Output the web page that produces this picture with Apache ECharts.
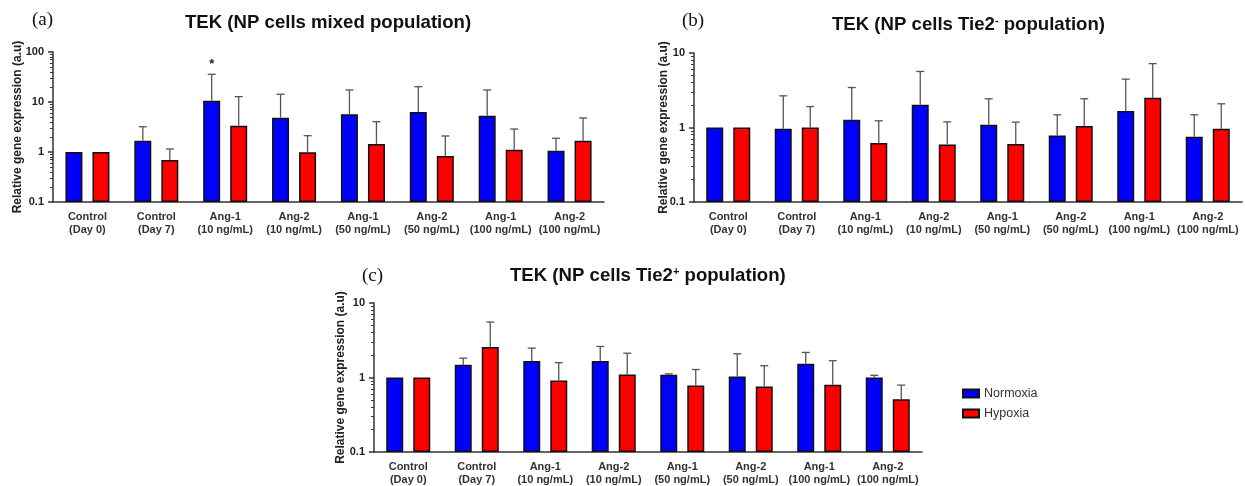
<!DOCTYPE html>
<html>
<head>
<meta charset="utf-8">
<script src="https://cdn.jsdelivr.net/npm/echarts@6/dist/echarts.min.js"></script>
<style>
html,body{margin:0;padding:0;background:#fff;}
#chart{width:1245px;height:486px;}
</style>
</head>
<body>
<div id="chart"></div>
<script>
// ---- data ----
const categories = ['Control\n(Day 0)', 'Control\n(Day 7)', 'Ang-1\n(10 ng/mL)', 'Ang-2\n(10 ng/mL)',
  'Ang-1\n(50 ng/mL)', 'Ang-2\n(50 ng/mL)', 'Ang-1\n(100 ng/mL)', 'Ang-2\n(100 ng/mL)'];
const seriesNames = ['Normoxia', 'Hypoxia'];

// Panel (a) mixed population
const aNorm    = [1.0, 1.68, 10.6, 4.85, 5.67, 6.3, 5.32, 1.06];
const aNormErr = [null, 3.2, 35.8, 14.3, 17.4, 20.2, 17.4, 1.88];
const aHyp     = [1.0, 0.69, 3.36, 0.99, 1.45, 0.83, 1.11, 1.68];
const aHypErr  = [null, 1.15, 12.8, 2.12, 4.04, 2.09, 2.88, 4.79];
const aNormSig = ['', '', '*', '', '', '', '', ''];

// Panel (b) Tie2- population
const bNorm    = [1.0, 0.96, 1.27, 2.02, 1.09, 0.78, 1.66, 0.75];
const bNormErr = [null, 2.66, 3.44, 5.65, 2.43, 1.48, 4.46, 1.48];
const bHyp     = [1.0, 1.0, 0.62, 0.59, 0.60, 1.05, 2.5, 0.96];
const bHypErr  = [null, 1.91, 1.23, 1.19, 1.18, 2.43, 7.2, 2.08];

// Panel (c) Tie2+ population
const cNorm    = [1.0, 1.48, 1.66, 1.66, 1.09, 1.03, 1.53, 1.0];
const cNormErr = [null, 1.82, 2.48, 2.61, 1.12, 2.08, 2.17, 1.07];
const cHyp     = [1.0, 2.56, 0.91, 1.10, 0.78, 0.76, 0.80, 0.51];
const cHypErr  = [null, 5.55, 1.58, 2.12, 1.28, 1.44, 1.68, 0.79];

const yTicksA = [0.1, 1, 10, 100];
const yTicksBC = [0.1, 1, 10];

// ---- styling / layout ----
const FONT = '"Liberation Sans", Arial, sans-serif';
const BLUE = '#0000ff', RED = '#ff0000';
const BAR_W = 17, GAP_PX = 10;
const AXIS_COLOR = '#333';

function minorTicks(lo, hi) {
  const out = [];
  for (let d = lo; d < hi; d *= 10) {
    for (let m = 2; m <= 9; m++) out.push(+(d * m).toPrecision(3));
  }
  return out;
}

const panels = [
  { grid: {left: 53, top: 52, width: 551, height: 150}, min: 0.1, max: 100, ticks: yTicksA, nameGap: 29,
    norm: aNorm, normErr: aNormErr, hyp: aHyp, hypErr: aHypErr, sig: aNormSig },
  { grid: {left: 694, top: 53, width: 548, height: 149}, min: 0.1, max: 10, ticks: yTicksBC, nameGap: 24,
    norm: bNorm, normErr: bNormErr, hyp: bHyp, hypErr: bHypErr, sig: null },
  { grid: {left: 374, top: 303, width: 548, height: 149}, min: 0.1, max: 10, ticks: yTicksBC, nameGap: 27,
    norm: cNorm, normErr: cNormErr, hyp: cHyp, hypErr: cHypErr, sig: null }
];

const grids = [], xAxes = [], yAxes = [], series = [];

panels.forEach((p, i) => {
  grids.push(Object.assign({containLabel: false, outerBoundsMode: 'none'}, p.grid));
  xAxes.push({
    type: 'category', gridIndex: i, data: categories,
    axisLine: {lineStyle: {color: AXIS_COLOR, width: 1.5}},
    axisTick: {alignWithLabel: true, length: 5, lineStyle: {color: AXIS_COLOR, width: 1.5}},
    axisLabel: {interval: 0, margin: 9, fontFamily: FONT, fontWeight: 'bold', fontSize: 11, lineHeight: 12.5, color: '#333'}
  });
  yAxes.push({
    type: 'log', logBase: 10, gridIndex: i, min: p.min, max: p.max, startValue: p.min,
    name: 'Relative gene expression (a.u)', nameLocation: 'middle', nameRotate: 90, nameGap: p.nameGap,
    nameMoveOverlap: false,
    nameTextStyle: {fontFamily: FONT, fontWeight: 'bold', fontSize: 12, color: '#222'},
    axisLine: {show: true, lineStyle: {color: AXIS_COLOR, width: 1.5}},
    axisTick: {show: true, length: 5, customValues: p.ticks, lineStyle: {color: AXIS_COLOR, width: 1.5}},
    axisLabel: {customValues: p.ticks, margin: 9, fontFamily: FONT, fontWeight: 'bold', fontSize: 11, color: '#222',
      formatter: v => String(+v)},
    splitLine: {show: false}
  });
  yAxes.push({
    type: 'log', logBase: 10, gridIndex: i, min: p.min, max: p.max, position: 'left',
    axisLine: {show: false},
    axisTick: {show: true, length: 3, customValues: minorTicks(p.min, p.max), lineStyle: {color: AXIS_COLOR, width: 1}},
    axisLabel: {show: false}, splitLine: {show: false}
  });
  const yIdx = i * 2;
  [[p.norm, BLUE, seriesNames[0]], [p.hyp, RED, seriesNames[1]]].forEach(([vals, col, nm]) => {
    series.push({
      type: 'bar', name: nm, xAxisIndex: i, yAxisIndex: yIdx, data: vals,
      barWidth: BAR_W, barGap: (GAP_PX / BAR_W * 100).toFixed(0) + '%',
      itemStyle: {color: col, borderColor: '#111', borderWidth: 1.5},
      emphasis: {disabled: true}, z: 2
    });
  });
  [[p.norm, p.normErr, -1, p.sig], [p.hyp, p.hypErr, 1, null]].forEach(([vals, errs, side, sig]) => {
    const data = [];
    vals.forEach((v, k) => { if (errs[k] != null) data.push([k, v, errs[k], sig ? sig[k] : '']); });
    series.push({
      type: 'custom', xAxisIndex: i, yAxisIndex: yIdx, data: data, z: 3, silent: true,
      encode: {x: 0, y: [1, 2]},
      renderItem: function (params, api) {
        const p0 = api.coord([api.value(0), api.value(1)]);
        const p1 = api.coord([api.value(0), api.value(2)]);
        const x = p0[0] + side * (BAR_W + GAP_PX) / 2;
        const style = {stroke: '#555', lineWidth: 1.3};
        const children = [
          {type: 'line', shape: {x1: x, y1: p0[1], x2: x, y2: p1[1]}, style: style},
          {type: 'line', shape: {x1: x - 4, y1: p1[1], x2: x + 4, y2: p1[1]}, style: style}
        ];
        const s = api.value(3);
        if (s) children.push({type: 'text', style: {text: s, x: x, y: p1[1] - 3, align: 'center', verticalAlign: 'bottom',
          fontFamily: FONT, fontWeight: 'bold', fontSize: 13, fill: '#222'}});
        return {type: 'group', children: children};
      }
    });
  });
});

const titleStyle = {fontFamily: FONT, fontWeight: 'bold', fontSize: 18.6, color: '#111',
  rich: {sup: {fontFamily: FONT, fontWeight: 'bold', fontSize: 11, color: '#111', padding: [0, 0, 9, 0]}}};
const letterStyle = {fontFamily: '"Liberation Serif", "DejaVu Serif", serif', fontWeight: 'normal', fontSize: 19, color: '#111'};

const option = {
  backgroundColor: '#fff',
  animation: false,
  title: [
    {text: 'TEK (NP cells mixed population)', left: 185, top: 13, padding: 0, textStyle: titleStyle},
    {text: 'TEK (NP cells Tie2{sup|-} population)', left: 832, top: 15, padding: 0, textStyle: titleStyle},
    {text: 'TEK (NP cells Tie2{sup|+} population)', left: 510, top: 266, padding: 0, textStyle: titleStyle},
    {text: '(a)', left: 32, top: 11, padding: 0, textStyle: letterStyle},
    {text: '(b)', left: 682, top: 12, padding: 0, textStyle: letterStyle},
    {text: '(c)', left: 362, top: 267, padding: 0, textStyle: letterStyle}
  ],
  legend: {
    data: seriesNames, orient: 'vertical', left: 962, top: 387, padding: 0,
    itemWidth: 16, itemHeight: 8, itemGap: 7, selectedMode: false, icon: 'rect',
    textStyle: {fontFamily: FONT, fontSize: 12.5, color: '#333'}
  },
  grid: grids, xAxis: xAxes, yAxis: yAxes, series: series
};

const chart = echarts.init(document.getElementById('chart'), null, {renderer: 'canvas'});
chart.setOption(option);
</script>
</body>
</html>
